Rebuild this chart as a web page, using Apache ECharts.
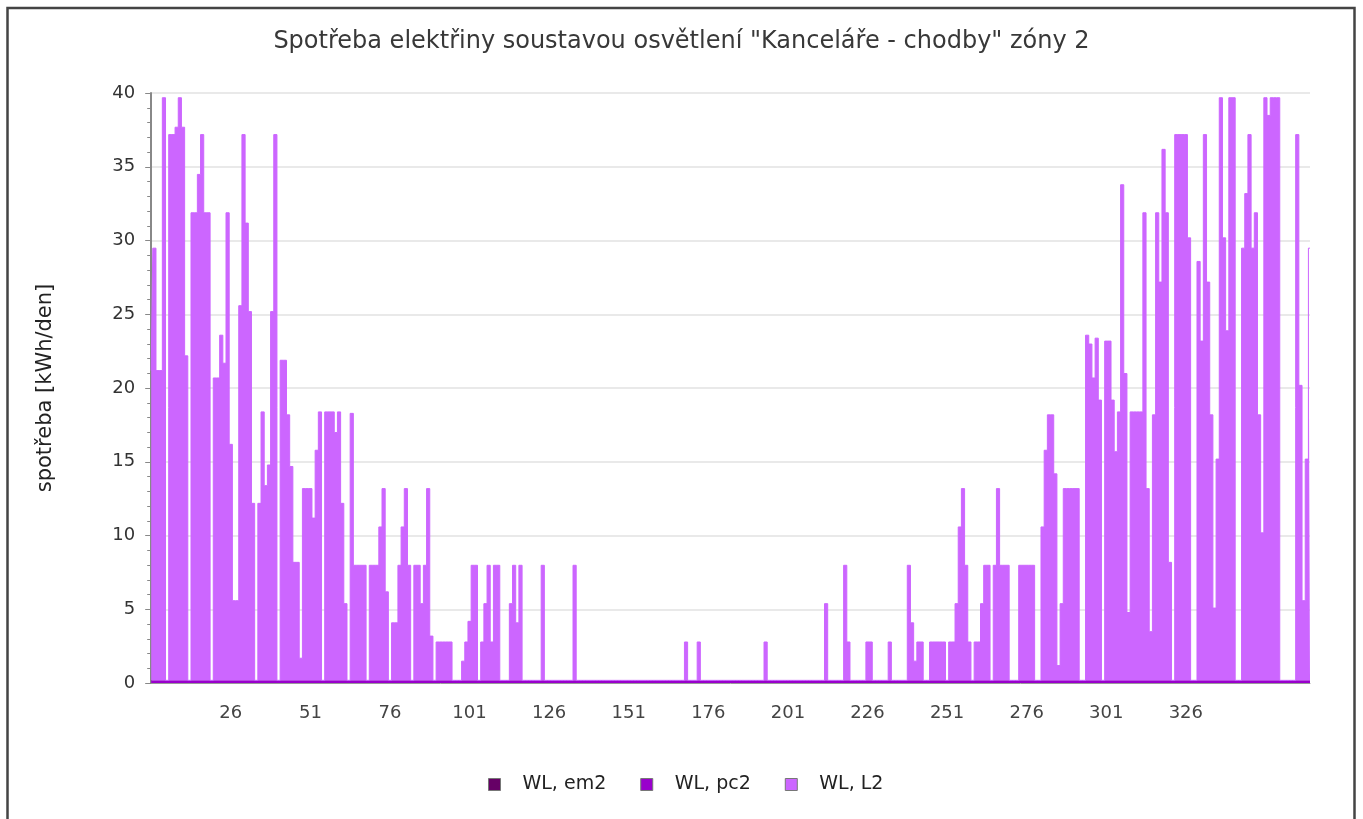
<!DOCTYPE html>
<html>
<head>
<meta charset="utf-8">
<title>Spotřeba elektřiny - osvětlení zóny 2</title>
<script src="https://cdn.jsdelivr.net/npm/echarts@6/dist/echarts.min.js"></script>
<style>
  html, body { margin: 0; padding: 0; background: #fff; }
  #chart { width: 1363px; height: 819px; }
</style>
</head>
<body>
<div id="chart"></div>
<script>
// day of year, 1..365 (category axis)
var days = [];
for (var d = 1; d <= 365; d++) days.push(String(d));

// labels shown under the x axis
var xTickDays = [26, 51, 76, 101, 126, 151, 176, 201, 226, 251, 276, 301, 326];

// WL,L2 - daily consumption [kWh/den], one row per week (Mon..Sun)
var wlL2 = [
  21, 29.3, 21, 21, 39.5, 0, 37,
  37, 37.5, 39.5, 37.5, 22, 0, 31.7,
  31.7, 34.3, 37, 31.7, 31.7, 0, 20.5,
  20.5, 23.4, 21.5, 31.7, 16, 5.4, 5.4,
  25.4, 37, 31, 25, 12, 0, 12,
  18.2, 13.2, 14.6, 25, 37, 0, 21.7,
  21.7, 18, 14.5, 8, 8, 1.5, 13,
  13, 13, 11, 15.6, 18.2, 0, 18.2,
  18.2, 18.2, 16.8, 18.2, 12, 5.2, 0,
  18.1, 7.8, 7.8, 7.8, 7.8, 0, 7.8,
  7.8, 7.8, 10.4, 13, 6, 0, 3.9,
  3.9, 7.8, 10.4, 13, 7.8, 0, 7.8,
  7.8, 5.2, 7.8, 13, 3, 0, 2.6,
  2.6, 2.6, 2.6, 2.6, 0, 0, 0,
  1.3, 2.6, 4, 7.8, 7.8, 0, 2.6,
  5.2, 7.8, 2.6, 7.8, 7.8, 0, 0,
  0, 5.2, 7.8, 3.9, 7.8, 0, 0,
  0, 0, 0, 0, 7.8, 0, 0,
  0, 0, 0, 0, 0, 0, 0,
  7.8, 0, 0, 0, 0, 0, 0,
  0, 0, 0, 0, 0, 0, 0,
  0, 0, 0, 0, 0, 0, 0,
  0, 0, 0, 0, 0, 0, 0,
  0, 0, 0, 0, 0, 0, 0,
  2.6, 0, 0, 0, 2.6, 0, 0,
  0, 0, 0, 0, 0, 0, 0,
  0, 0, 0, 0, 0, 0, 0,
  0, 0, 0, 0, 2.6, 0, 0,
  0, 0, 0, 0, 0, 0, 0,
  0, 0, 0, 0, 0, 0, 0,
  0, 0, 5.2, 0, 0, 0, 0,
  0, 7.8, 2.6, 0, 0, 0, 0,
  0, 2.6, 2.6, 0, 0, 0, 0,
  0, 2.6, 0, 0, 0, 0, 0,
  7.8, 3.9, 1.3, 2.6, 2.6, 0, 0,
  2.6, 2.6, 2.6, 2.6, 2.6, 0, 2.6,
  2.6, 5.2, 10.4, 13, 7.8, 2.6, 0,
  2.6, 2.6, 5.2, 7.8, 7.8, 0, 7.8,
  13, 7.8, 7.8, 7.8, 0, 0, 0,
  7.8, 7.8, 7.8, 7.8, 7.8, 0, 0,
  10.4, 15.6, 18, 18, 14, 1, 5.2,
  13, 13, 13, 13, 13, 0, 0,
  23.4, 22.8, 20.5, 23.2, 19, 0, 23,
  23, 19, 15.5, 18.2, 33.6, 20.8, 4.6,
  18.2, 18.2, 18.2, 18.2, 31.7, 13, 3.3,
  18, 31.7, 27, 36, 31.7, 8, 0,
  37, 37, 37, 37, 30, 0, 0,
  28.4, 23, 37, 27, 18, 4.9, 15,
  39.5, 30, 23.7, 39.5, 39.5, 0, 0,
  29.3, 33, 37, 29.3, 31.7, 18, 10,
  39.5, 38.3, 39.5, 39.5, 39.5, 0, 0,
  0, 0, 0, 37, 20, 5.4, 15,
  29.3
];

// WL,em2 reads as zero all year, WL,pc2 as a thin constant band on the zero line
var wlEm2 = days.map(function () { return 0; });
var wlPc2 = days.map(function () { return 0.18; });

var seriesNames = ['WL, em2', 'WL, pc2', 'WL, L2'];
var seriesColors = ['#660066', '#9900CC', '#CC66FF'];
var seriesData = [wlEm2, wlPc2, wlL2];

var chart = echarts.init(document.getElementById('chart'));

var option = {
    animation: false,
    backgroundColor: '#fff',
    textStyle: { fontFamily: 'DejaVu Sans' },
    title: {
        text: 'Spotřeba elektřiny soustavou osvětlení "Kanceláře - chodby" zóny 2',
        left: 'center',
        top: 25,
        textStyle: { fontSize: 24, fontWeight: 'normal', color: '#383838', fontFamily: 'DejaVu Sans' }
    },
    legend: {
        data: seriesNames,
        left: 483,
        top: 770,
        icon: 'rect',
        itemWidth: 12,
        itemHeight: 12,
        itemGap: 34,
        itemStyle: { borderColor: '#777', borderWidth: 1 },
        textStyle: { fontSize: 19, color: '#222', padding: [0, 0, 0, 17] }
    },
    grid: { left: 151.2, right: 53, top: 93, bottom: 136 },
    xAxis: {
        type: 'category',
        data: days,
        boundaryGap: false,
        axisTick: { show: false },
        axisLine: { lineStyle: { color: '#999' } },
        splitLine: { show: false },
        axisLabel: {
            interval: function (index) { return xTickDays.indexOf(index + 1) >= 0; },
            margin: 21,
            fontSize: 18,
            color: '#444'
        }
    },
    yAxis: {
        type: 'value',
        min: 0,
        max: 40,
        interval: 5,
        name: 'spotřeba [kWh/den]',
        nameLocation: 'middle',
        nameGap: 95,
        nameTextStyle: { fontSize: 21, color: '#222' },
        axisLine: { show: true, lineStyle: { color: '#888', width: 2 } },
        axisTick: { show: true, length: 6, lineStyle: { color: '#888' } },
        minorTick: { show: true, splitNumber: 5, length: 4, lineStyle: { color: '#888' } },
        axisLabel: { fontSize: 18, color: '#333', margin: 16 },
        splitLine: { lineStyle: { color: '#e2e2e2', width: 1.5 } }
    },
    graphic: [{
        type: 'rect',
        silent: true,
        z: 100,
        shape: { x: 7.5, y: 8, width: 1347, height: 840 },
        style: { fill: 'none', stroke: '#444', lineWidth: 2.5 }
    }],
    series: seriesNames.map(function (name, i) {
        return {
            name: name,
            type: 'line',
            stack: 'total',
            step: 'middle',
            data: seriesData[i],
            symbol: 'none',
            itemStyle: { color: seriesColors[i] },
            lineStyle: { width: i === 2 ? 1 : 0, color: seriesColors[i] },
            areaStyle: { color: seriesColors[i], opacity: 1 }
        };
    })
};
chart.setOption(option);
</script>
</body>
</html>
